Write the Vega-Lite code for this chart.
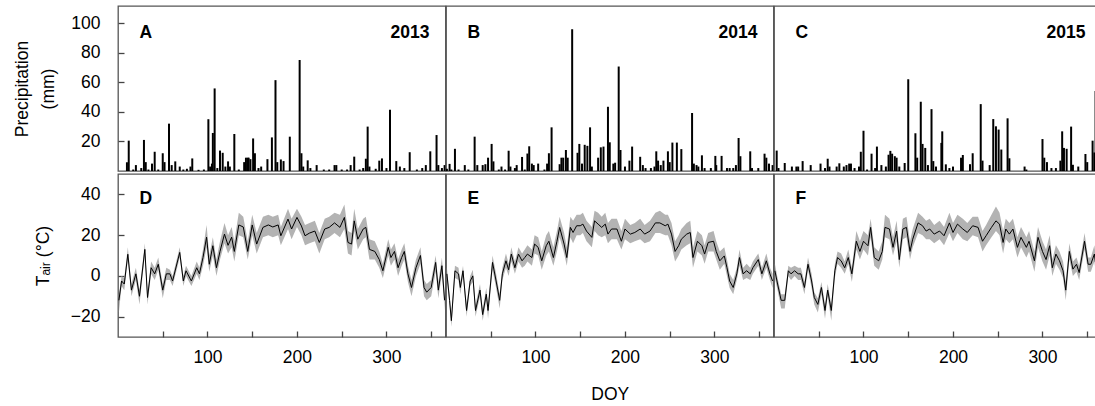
{
  "$schema": "https://vega.github.io/schema/vega-lite/v6.json",
  "padding": {"left": 13, "top": 5, "right": 0, "bottom": 0},
  "background": "white",
  "spacing": 0,
  "config": {
    "font": "Liberation Sans",
    "view": {"stroke": "#555", "strokeWidth": 1.3},
    "concat": {"spacing": 0},
    "axis": {
      "labelFont": "Liberation Sans", "titleFont": "Liberation Sans",
      "labelFontSize": 17.5, "titleFontSize": 17.5, "titleFontWeight": "normal",
      "labelColor": "#000", "titleColor": "#000",
      "tickColor": "#444", "tickSize": 6, "tickWidth": 1.3, "offset": -6,
      "domain": false, "grid": false, "zindex": 2
    }
  },
  "datasets": {
    "precip": [
      {"year":2013,"doy":10,"p":5.9},{"year":2013,"doy":12,"p":20.5},{"year":2013,"doy":17,"p":1},{"year":2013,"doy":20,"p":4},{"year":2013,"doy":26,"p":2},{"year":2013,"doy":29,"p":21},{"year":2013,"doy":31,"p":6},{"year":2013,"doy":34,"p":1},{"year":2013,"doy":38,"p":5},{"year":2013,"doy":41,"p":13},{"year":2013,"doy":45,"p":1},{"year":2013,"doy":50,"p":12},{"year":2013,"doy":52,"p":6},{"year":2013,"doy":57,"p":32},{"year":2013,"doy":60,"p":4},{"year":2013,"doy":64,"p":6.5},{"year":2013,"doy":69,"p":3},{"year":2013,"doy":73,"p":1},{"year":2013,"doy":77,"p":1.5},{"year":2013,"doy":81,"p":3},{"year":2013,"doy":83,"p":8.5},{"year":2013,"doy":90,"p":0.8},{"year":2013,"doy":96,"p":1},{"year":2013,"doy":101,"p":35},{"year":2013,"doy":103,"p":3},{"year":2013,"doy":105,"p":5},{"year":2013,"doy":106,"p":25.7},{"year":2013,"doy":108,"p":55.8},{"year":2013,"doy":111,"p":2},{"year":2013,"doy":114,"p":13.8},{"year":2013,"doy":117,"p":12.3},{"year":2013,"doy":120,"p":3},{"year":2013,"doy":123,"p":6.5},{"year":2013,"doy":125,"p":3},{"year":2013,"doy":130,"p":25},{"year":2013,"doy":135,"p":1},{"year":2013,"doy":141,"p":6},{"year":2013,"doy":143,"p":9},{"year":2013,"doy":145,"p":9},{"year":2013,"doy":146,"p":9},{"year":2013,"doy":148,"p":8},{"year":2013,"doy":151,"p":22},{"year":2013,"doy":153,"p":12},{"year":2013,"doy":157,"p":2},{"year":2013,"doy":160,"p":3},{"year":2013,"doy":167,"p":8},{"year":2013,"doy":172,"p":22.7},{"year":2013,"doy":176,"p":61.4},{"year":2013,"doy":178,"p":6},{"year":2013,"doy":182,"p":7.8},{"year":2013,"doy":185,"p":6.7},{"year":2013,"doy":192,"p":23.2},{"year":2013,"doy":203,"p":75},{"year":2013,"doy":205,"p":12},{"year":2013,"doy":207,"p":3},{"year":2013,"doy":212,"p":7.2},{"year":2013,"doy":215,"p":2},{"year":2013,"doy":222,"p":4},{"year":2013,"doy":230,"p":1},{"year":2013,"doy":236,"p":1},{"year":2013,"doy":242,"p":4},{"year":2013,"doy":244,"p":4},{"year":2013,"doy":250,"p":1},{"year":2013,"doy":256,"p":1},{"year":2013,"doy":260,"p":4},{"year":2013,"doy":264,"p":9.7},{"year":2013,"doy":270,"p":1},{"year":2013,"doy":274,"p":2},{"year":2013,"doy":277,"p":8.3},{"year":2013,"doy":279,"p":30},{"year":2013,"doy":281,"p":3},{"year":2013,"doy":288,"p":1.5},{"year":2013,"doy":292,"p":7},{"year":2013,"doy":295,"p":8.5},{"year":2013,"doy":300,"p":2},{"year":2013,"doy":304,"p":41.4},{"year":2013,"doy":311,"p":6.7},{"year":2013,"doy":315,"p":3},{"year":2013,"doy":320,"p":2},{"year":2013,"doy":326,"p":12.7},{"year":2013,"doy":334,"p":1},{"year":2013,"doy":340,"p":2},{"year":2013,"doy":344,"p":4},{"year":2013,"doy":349,"p":13.3},{"year":2013,"doy":356,"p":24.3},{"year":2013,"doy":358,"p":4},{"year":2013,"doy":362,"p":2},{"year":2013,"doy":365,"p":4},
      {"year":2014,"doy":1,"p":1.5},{"year":2014,"doy":4,"p":4.8},{"year":2014,"doy":6,"p":1},{"year":2014,"doy":10,"p":15},{"year":2014,"doy":14,"p":1},{"year":2014,"doy":21,"p":4},{"year":2014,"doy":25,"p":1},{"year":2014,"doy":32,"p":23.2},{"year":2014,"doy":35,"p":4},{"year":2014,"doy":41,"p":4},{"year":2014,"doy":44,"p":4.6},{"year":2014,"doy":47,"p":9},{"year":2014,"doy":51,"p":18.3},{"year":2014,"doy":53,"p":6.5},{"year":2014,"doy":59,"p":1},{"year":2014,"doy":62,"p":3},{"year":2014,"doy":66,"p":1},{"year":2014,"doy":70,"p":13.7},{"year":2014,"doy":72,"p":3},{"year":2014,"doy":77,"p":2},{"year":2014,"doy":79,"p":4},{"year":2014,"doy":85,"p":9.5},{"year":2014,"doy":88,"p":1},{"year":2014,"doy":91,"p":11.8},{"year":2014,"doy":93,"p":16.7},{"year":2014,"doy":96,"p":5},{"year":2014,"doy":98,"p":4},{"year":2014,"doy":103,"p":5},{"year":2014,"doy":110,"p":1},{"year":2014,"doy":113,"p":5},{"year":2014,"doy":115,"p":12},{"year":2014,"doy":118,"p":29.5},{"year":2014,"doy":127,"p":4.6},{"year":2014,"doy":129,"p":9},{"year":2014,"doy":131,"p":9},{"year":2014,"doy":134,"p":14.2},{"year":2014,"doy":136,"p":9},{"year":2014,"doy":141,"p":95.8},{"year":2014,"doy":147,"p":12.3},{"year":2014,"doy":149,"p":18.3},{"year":2014,"doy":152,"p":5},{"year":2014,"doy":155,"p":17.7},{"year":2014,"doy":158,"p":17},{"year":2014,"doy":161,"p":29.5},{"year":2014,"doy":163,"p":3},{"year":2014,"doy":170,"p":9},{"year":2014,"doy":173,"p":16},{"year":2014,"doy":176,"p":16.5},{"year":2014,"doy":181,"p":43.4},{"year":2014,"doy":183,"p":19.4},{"year":2014,"doy":187,"p":5},{"year":2014,"doy":189,"p":5.6},{"year":2014,"doy":193,"p":70.6},{"year":2014,"doy":195,"p":14.2},{"year":2014,"doy":200,"p":3},{"year":2014,"doy":205,"p":7},{"year":2014,"doy":208,"p":16.5},{"year":2014,"doy":217,"p":9.6},{"year":2014,"doy":220,"p":4},{"year":2014,"doy":223,"p":2},{"year":2014,"doy":229,"p":2},{"year":2014,"doy":233,"p":3},{"year":2014,"doy":235,"p":13.3},{"year":2014,"doy":237,"p":7},{"year":2014,"doy":240,"p":4},{"year":2014,"doy":243,"p":7},{"year":2014,"doy":248,"p":13.3},{"year":2014,"doy":250,"p":6},{"year":2014,"doy":253,"p":19.2},{"year":2014,"doy":258,"p":19.2},{"year":2014,"doy":263,"p":14.8},{"year":2014,"doy":275,"p":39.2},{"year":2014,"doy":277,"p":5},{"year":2014,"doy":280,"p":4},{"year":2014,"doy":282,"p":3},{"year":2014,"doy":286,"p":10.6},{"year":2014,"doy":289,"p":2},{"year":2014,"doy":296,"p":2},{"year":2014,"doy":301,"p":10.2},{"year":2014,"doy":302,"p":4},{"year":2014,"doy":308,"p":10.2},{"year":2014,"doy":314,"p":2},{"year":2014,"doy":317,"p":2},{"year":2014,"doy":321,"p":2},{"year":2014,"doy":324,"p":4},{"year":2014,"doy":327,"p":22.3},{"year":2014,"doy":329,"p":10},{"year":2014,"doy":340,"p":13.3},{"year":2014,"doy":342,"p":2},{"year":2014,"doy":349,"p":2},{"year":2014,"doy":356,"p":11.7},{"year":2014,"doy":358,"p":9},{"year":2014,"doy":361,"p":5},{"year":2014,"doy":365,"p":4},
      {"year":2015,"doy":3,"p":13.8},{"year":2015,"doy":5,"p":2},{"year":2015,"doy":12,"p":5.4},{"year":2015,"doy":20,"p":3},{"year":2015,"doy":25,"p":3},{"year":2015,"doy":27,"p":3},{"year":2015,"doy":32,"p":6.7},{"year":2015,"doy":41,"p":4},{"year":2015,"doy":52,"p":5},{"year":2015,"doy":57,"p":2},{"year":2015,"doy":60,"p":8.3},{"year":2015,"doy":62,"p":3},{"year":2015,"doy":70,"p":3},{"year":2015,"doy":73,"p":5.2},{"year":2015,"doy":78,"p":3},{"year":2015,"doy":81,"p":4},{"year":2015,"doy":84,"p":5},{"year":2015,"doy":86,"p":5},{"year":2015,"doy":90,"p":2},{"year":2015,"doy":95,"p":3},{"year":2015,"doy":97,"p":13},{"year":2015,"doy":100,"p":27.2},{"year":2015,"doy":104,"p":1},{"year":2015,"doy":109,"p":11.7},{"year":2015,"doy":113,"p":2},{"year":2015,"doy":115,"p":16.5},{"year":2015,"doy":120,"p":4},{"year":2015,"doy":125,"p":3},{"year":2015,"doy":128,"p":11},{"year":2015,"doy":130,"p":13.6},{"year":2015,"doy":132,"p":11.7},{"year":2015,"doy":135,"p":10},{"year":2015,"doy":137,"p":9},{"year":2015,"doy":140,"p":3},{"year":2015,"doy":146,"p":5.4},{"year":2015,"doy":150,"p":62},{"year":2015,"doy":158,"p":25.5},{"year":2015,"doy":160,"p":9},{"year":2015,"doy":164,"p":46.8},{"year":2015,"doy":166,"p":18.3},{"year":2015,"doy":169,"p":15.6},{"year":2015,"doy":172,"p":4},{"year":2015,"doy":176,"p":41.8},{"year":2015,"doy":178,"p":6.7},{"year":2015,"doy":181,"p":3},{"year":2015,"doy":187,"p":19},{"year":2015,"doy":188,"p":26.8},{"year":2015,"doy":192,"p":4.5},{"year":2015,"doy":196,"p":2},{"year":2015,"doy":200,"p":3},{"year":2015,"doy":209,"p":9},{"year":2015,"doy":211,"p":10.8},{"year":2015,"doy":219,"p":4.6},{"year":2015,"doy":222,"p":12},{"year":2015,"doy":231,"p":45.2},{"year":2015,"doy":233,"p":7},{"year":2015,"doy":241,"p":4},{"year":2015,"doy":245,"p":35.1},{"year":2015,"doy":248,"p":30.2},{"year":2015,"doy":251,"p":28},{"year":2015,"doy":254,"p":14.5},{"year":2015,"doy":261,"p":35.6},{"year":2015,"doy":263,"p":8.6},{"year":2015,"doy":280,"p":3},{"year":2015,"doy":282,"p":1},{"year":2015,"doy":300,"p":21.6},{"year":2015,"doy":302,"p":9},{"year":2015,"doy":305,"p":6},{"year":2015,"doy":310,"p":2},{"year":2015,"doy":315,"p":2},{"year":2015,"doy":320,"p":7},{"year":2015,"doy":322,"p":26.8},{"year":2015,"doy":324,"p":15.6},{"year":2015,"doy":327,"p":15},{"year":2015,"doy":332,"p":30},{"year":2015,"doy":334,"p":4.2},{"year":2015,"doy":340,"p":3},{"year":2015,"doy":348,"p":11.5},{"year":2015,"doy":350,"p":6},{"year":2015,"doy":356,"p":20.5},{"year":2015,"doy":358,"p":12.5},{"year":2015,"doy":359.3,"p":54}
    ],
    "temp": [
      {"year":2013,"doy":1,"t":-12,"lo":-18,"hi":-9},{"year":2013,"doy":4,"t":-2.5,"lo":-5,"hi":0},{"year":2013,"doy":7,"t":-4,"lo":-7,"hi":-1},{"year":2013,"doy":11,"t":10.6,"lo":8,"hi":14},{"year":2013,"doy":15,"t":-7,"lo":-10,"hi":-4},{"year":2013,"doy":20,"t":1,"lo":-2,"hi":4},{"year":2013,"doy":24,"t":-10,"lo":-14,"hi":-7},{"year":2013,"doy":30,"t":13,"lo":10,"hi":16},{"year":2013,"doy":33,"t":-10.6,"lo":-14,"hi":-8},{"year":2013,"doy":37,"t":4,"lo":1,"hi":7},{"year":2013,"doy":41,"t":1,"lo":-2,"hi":4},{"year":2013,"doy":45,"t":5.7,"lo":3,"hi":9},{"year":2013,"doy":50,"t":-7,"lo":-11,"hi":-4},{"year":2013,"doy":54,"t":1,"lo":-2,"hi":4},{"year":2013,"doy":58,"t":1,"lo":-2,"hi":3},{"year":2013,"doy":61,"t":-2.5,"lo":-5,"hi":0},{"year":2013,"doy":69,"t":11.5,"lo":9,"hi":14},{"year":2013,"doy":73,"t":-2.5,"lo":-5,"hi":0},{"year":2013,"doy":76,"t":2.5,"lo":0,"hi":5},{"year":2013,"doy":82,"t":-2.5,"lo":-5,"hi":0},{"year":2013,"doy":88,"t":4,"lo":1,"hi":7},{"year":2013,"doy":91,"t":1,"lo":-2,"hi":4},{"year":2013,"doy":95,"t":9,"lo":5,"hi":13},{"year":2013,"doy":99,"t":19,"lo":14,"hi":25},{"year":2013,"doy":102,"t":5.7,"lo":2,"hi":10},{"year":2013,"doy":106,"t":14.8,"lo":10,"hi":19},{"year":2013,"doy":110,"t":4,"lo":0,"hi":8},{"year":2013,"doy":114,"t":12,"lo":8,"hi":17},{"year":2013,"doy":119,"t":20.5,"lo":16,"hi":26},{"year":2013,"doy":123,"t":15,"lo":11,"hi":20},{"year":2013,"doy":127,"t":19,"lo":14,"hi":24},{"year":2013,"doy":130,"t":12,"lo":7,"hi":17},{"year":2013,"doy":135,"t":25,"lo":20,"hi":31},{"year":2013,"doy":140,"t":24,"lo":19,"hi":29},{"year":2013,"doy":145,"t":12,"lo":8,"hi":17},{"year":2013,"doy":150,"t":25,"lo":20,"hi":30},{"year":2013,"doy":155,"t":15.6,"lo":11,"hi":21},{"year":2013,"doy":162,"t":23.8,"lo":19,"hi":29},{"year":2013,"doy":168,"t":25,"lo":20,"hi":30},{"year":2013,"doy":173,"t":24,"lo":19,"hi":29},{"year":2013,"doy":179,"t":25,"lo":20,"hi":30},{"year":2013,"doy":182,"t":19.7,"lo":15,"hi":24},{"year":2013,"doy":190,"t":27.9,"lo":23,"hi":33},{"year":2013,"doy":194,"t":23,"lo":18,"hi":28},{"year":2013,"doy":200,"t":28.7,"lo":24,"hi":33},{"year":2013,"doy":205,"t":24.5,"lo":20,"hi":29},{"year":2013,"doy":209,"t":19.7,"lo":15,"hi":25},{"year":2013,"doy":214,"t":21,"lo":16,"hi":26},{"year":2013,"doy":220,"t":22,"lo":17,"hi":27},{"year":2013,"doy":225,"t":16.4,"lo":11,"hi":21},{"year":2013,"doy":231,"t":23,"lo":18,"hi":28},{"year":2013,"doy":236,"t":23.8,"lo":19,"hi":29},{"year":2013,"doy":242,"t":26,"lo":21,"hi":31},{"year":2013,"doy":248,"t":23.8,"lo":19,"hi":30},{"year":2013,"doy":253,"t":28.7,"lo":23,"hi":35},{"year":2013,"doy":257,"t":16.4,"lo":11,"hi":22},{"year":2013,"doy":261,"t":15.6,"lo":10,"hi":21},{"year":2013,"doy":264,"t":27,"lo":22,"hi":33},{"year":2013,"doy":268,"t":18,"lo":13,"hi":23},{"year":2013,"doy":274,"t":23,"lo":18,"hi":28},{"year":2013,"doy":277,"t":23.8,"lo":19,"hi":29},{"year":2013,"doy":281,"t":13,"lo":8,"hi":18},{"year":2013,"doy":287,"t":12,"lo":8,"hi":17},{"year":2013,"doy":292,"t":8,"lo":4,"hi":12},{"year":2013,"doy":296,"t":2.5,"lo":-1,"hi":6},{"year":2013,"doy":302,"t":14,"lo":10,"hi":18},{"year":2013,"doy":305,"t":9,"lo":5,"hi":13},{"year":2013,"doy":309,"t":12,"lo":8,"hi":16},{"year":2013,"doy":313,"t":4,"lo":0,"hi":8},{"year":2013,"doy":317,"t":9,"lo":5,"hi":13},{"year":2013,"doy":320,"t":12,"lo":8,"hi":16},{"year":2013,"doy":324,"t":1,"lo":-3,"hi":5},{"year":2013,"doy":328,"t":-5.7,"lo":-10,"hi":-2},{"year":2013,"doy":333,"t":4,"lo":0,"hi":8},{"year":2013,"doy":338,"t":10,"lo":6,"hi":14},{"year":2013,"doy":342,"t":-5.7,"lo":-10,"hi":-2},{"year":2013,"doy":345,"t":-8,"lo":-12,"hi":-4},{"year":2013,"doy":350,"t":-5.7,"lo":-10,"hi":-2},{"year":2013,"doy":355,"t":6.6,"lo":2,"hi":10},{"year":2013,"doy":358,"t":-7,"lo":-11,"hi":-3},{"year":2013,"doy":362,"t":5,"lo":1,"hi":9},{"year":2013,"doy":365,"t":-12,"lo":-17,"hi":-8},
      {"year":2014,"doy":1,"t":1,"lo":-2,"hi":4},{"year":2014,"doy":4,"t":-12,"lo":-15,"hi":-9},{"year":2014,"doy":6,"t":-22,"lo":-25,"hi":-19},{"year":2014,"doy":10,"t":2.5,"lo":-1,"hi":5},{"year":2014,"doy":14,"t":1,"lo":-2,"hi":4},{"year":2014,"doy":16,"t":-5.7,"lo":-9,"hi":-3},{"year":2014,"doy":19,"t":2.5,"lo":0,"hi":5},{"year":2014,"doy":23,"t":-17,"lo":-20,"hi":-14},{"year":2014,"doy":27,"t":-2.5,"lo":-5,"hi":0},{"year":2014,"doy":30,"t":0,"lo":-3,"hi":3},{"year":2014,"doy":33,"t":-17,"lo":-20,"hi":-14},{"year":2014,"doy":38,"t":-7,"lo":-10,"hi":-4},{"year":2014,"doy":41,"t":-19,"lo":-22,"hi":-16},{"year":2014,"doy":45,"t":-9,"lo":-12,"hi":-6},{"year":2014,"doy":47,"t":-17,"lo":-21,"hi":-14},{"year":2014,"doy":52,"t":6.6,"lo":3,"hi":10},{"year":2014,"doy":56,"t":-2.5,"lo":-6,"hi":1},{"year":2014,"doy":60,"t":-12,"lo":-16,"hi":-9},{"year":2014,"doy":63,"t":1,"lo":-2,"hi":4},{"year":2014,"doy":67,"t":7.4,"lo":4,"hi":11},{"year":2014,"doy":70,"t":3,"lo":0,"hi":6},{"year":2014,"doy":73,"t":10.7,"lo":7,"hi":14},{"year":2014,"doy":77,"t":4,"lo":1,"hi":7},{"year":2014,"doy":81,"t":10.7,"lo":7,"hi":14},{"year":2014,"doy":85,"t":7.4,"lo":4,"hi":11},{"year":2014,"doy":88,"t":9,"lo":5,"hi":13},{"year":2014,"doy":91,"t":10.7,"lo":7,"hi":15},{"year":2014,"doy":96,"t":9,"lo":5,"hi":13},{"year":2014,"doy":99,"t":15.6,"lo":11,"hi":20},{"year":2014,"doy":103,"t":14,"lo":10,"hi":19},{"year":2014,"doy":107,"t":7.4,"lo":3,"hi":12},{"year":2014,"doy":112,"t":14.8,"lo":10,"hi":20},{"year":2014,"doy":115,"t":17,"lo":12,"hi":22},{"year":2014,"doy":120,"t":9,"lo":5,"hi":14},{"year":2014,"doy":124,"t":17,"lo":12,"hi":22},{"year":2014,"doy":127,"t":23.8,"lo":19,"hi":29},{"year":2014,"doy":132,"t":15.6,"lo":11,"hi":21},{"year":2014,"doy":135,"t":9,"lo":5,"hi":14},{"year":2014,"doy":139,"t":23.8,"lo":19,"hi":29},{"year":2014,"doy":142,"t":21.3,"lo":16,"hi":27},{"year":2014,"doy":146,"t":24.6,"lo":20,"hi":30},{"year":2014,"doy":150,"t":24.6,"lo":20,"hi":30},{"year":2014,"doy":153,"t":25.4,"lo":21,"hi":31},{"year":2014,"doy":157,"t":22,"lo":17,"hi":27},{"year":2014,"doy":163,"t":18.9,"lo":14,"hi":24},{"year":2014,"doy":166,"t":27,"lo":22,"hi":32},{"year":2014,"doy":170,"t":25.4,"lo":20,"hi":31},{"year":2014,"doy":174,"t":23.8,"lo":19,"hi":29},{"year":2014,"doy":178,"t":25.4,"lo":20,"hi":31},{"year":2014,"doy":181,"t":20.5,"lo":16,"hi":26},{"year":2014,"doy":185,"t":23,"lo":18,"hi":28},{"year":2014,"doy":191,"t":23,"lo":18,"hi":28},{"year":2014,"doy":196,"t":17,"lo":13,"hi":22},{"year":2014,"doy":200,"t":23,"lo":18,"hi":28},{"year":2014,"doy":206,"t":20.5,"lo":16,"hi":25},{"year":2014,"doy":211,"t":21.3,"lo":17,"hi":26},{"year":2014,"doy":217,"t":23,"lo":18,"hi":28},{"year":2014,"doy":222,"t":20.5,"lo":16,"hi":25},{"year":2014,"doy":228,"t":22,"lo":17,"hi":27},{"year":2014,"doy":234,"t":26,"lo":21,"hi":31},{"year":2014,"doy":239,"t":26,"lo":21,"hi":32},{"year":2014,"doy":245,"t":24.6,"lo":20,"hi":30},{"year":2014,"doy":248,"t":25.4,"lo":20,"hi":30},{"year":2014,"doy":252,"t":20.5,"lo":15,"hi":26},{"year":2014,"doy":256,"t":12,"lo":7,"hi":17},{"year":2014,"doy":260,"t":14.8,"lo":10,"hi":20},{"year":2014,"doy":263,"t":18,"lo":13,"hi":23},{"year":2014,"doy":269,"t":20.5,"lo":15,"hi":26},{"year":2014,"doy":273,"t":21.3,"lo":16,"hi":27},{"year":2014,"doy":276,"t":9,"lo":4,"hi":14},{"year":2014,"doy":281,"t":17,"lo":12,"hi":22},{"year":2014,"doy":286,"t":14.8,"lo":10,"hi":20},{"year":2014,"doy":289,"t":10.7,"lo":6,"hi":15},{"year":2014,"doy":293,"t":16.4,"lo":12,"hi":21},{"year":2014,"doy":299,"t":17,"lo":12,"hi":22},{"year":2014,"doy":302,"t":12,"lo":8,"hi":17},{"year":2014,"doy":306,"t":7.4,"lo":3,"hi":12},{"year":2014,"doy":311,"t":9.8,"lo":6,"hi":14},{"year":2014,"doy":314,"t":4,"lo":0,"hi":8},{"year":2014,"doy":317,"t":-2.5,"lo":-6,"hi":1},{"year":2014,"doy":321,"t":-5.7,"lo":-9,"hi":-2},{"year":2014,"doy":325,"t":1,"lo":-2,"hi":4},{"year":2014,"doy":328,"t":9,"lo":5,"hi":13},{"year":2014,"doy":332,"t":1,"lo":-2,"hi":4},{"year":2014,"doy":336,"t":2.5,"lo":-1,"hi":6},{"year":2014,"doy":340,"t":1,"lo":-2,"hi":4},{"year":2014,"doy":343,"t":4,"lo":1,"hi":7},{"year":2014,"doy":349,"t":8,"lo":5,"hi":11},{"year":2014,"doy":353,"t":1,"lo":-2,"hi":4},{"year":2014,"doy":358,"t":7.4,"lo":4,"hi":11},{"year":2014,"doy":362,"t":1,"lo":-2,"hi":4},{"year":2014,"doy":365,"t":-2.5,"lo":-6,"hi":1},
      {"year":2015,"doy":1,"t":2.5,"lo":-1,"hi":6},{"year":2015,"doy":4,"t":-4,"lo":-7,"hi":-1},{"year":2015,"doy":8,"t":-12,"lo":-16,"hi":-9},{"year":2015,"doy":12,"t":-12,"lo":-16,"hi":-9},{"year":2015,"doy":16,"t":2.5,"lo":0,"hi":5},{"year":2015,"doy":19,"t":1,"lo":-2,"hi":4},{"year":2015,"doy":23,"t":2.5,"lo":0,"hi":5},{"year":2015,"doy":27,"t":1,"lo":-2,"hi":4},{"year":2015,"doy":30,"t":1,"lo":-2,"hi":4},{"year":2015,"doy":34,"t":-5.7,"lo":-9,"hi":-3},{"year":2015,"doy":38,"t":5.7,"lo":3,"hi":9},{"year":2015,"doy":42,"t":-2.5,"lo":-6,"hi":1},{"year":2015,"doy":45,"t":-10.6,"lo":-14,"hi":-8},{"year":2015,"doy":49,"t":-14,"lo":-18,"hi":-11},{"year":2015,"doy":53,"t":-5.7,"lo":-9,"hi":-3},{"year":2015,"doy":57,"t":-17,"lo":-21,"hi":-14},{"year":2015,"doy":60,"t":-7,"lo":-10,"hi":-4},{"year":2015,"doy":64,"t":-17,"lo":-22,"hi":-14},{"year":2015,"doy":68,"t":2.5,"lo":-1,"hi":6},{"year":2015,"doy":71,"t":9,"lo":6,"hi":12},{"year":2015,"doy":75,"t":7.4,"lo":4,"hi":11},{"year":2015,"doy":79,"t":4,"lo":1,"hi":7},{"year":2015,"doy":83,"t":9,"lo":6,"hi":13},{"year":2015,"doy":87,"t":1,"lo":-3,"hi":4},{"year":2015,"doy":92,"t":17,"lo":13,"hi":22},{"year":2015,"doy":96,"t":12,"lo":8,"hi":17},{"year":2015,"doy":100,"t":17,"lo":13,"hi":22},{"year":2015,"doy":105,"t":14.8,"lo":10,"hi":20},{"year":2015,"doy":108,"t":23.8,"lo":19,"hi":28},{"year":2015,"doy":112,"t":9,"lo":5,"hi":14},{"year":2015,"doy":117,"t":7.4,"lo":3,"hi":12},{"year":2015,"doy":121,"t":12,"lo":8,"hi":17},{"year":2015,"doy":124,"t":23.8,"lo":19,"hi":30},{"year":2015,"doy":129,"t":23,"lo":18,"hi":28},{"year":2015,"doy":133,"t":14,"lo":10,"hi":19},{"year":2015,"doy":137,"t":22,"lo":17,"hi":27},{"year":2015,"doy":140,"t":8,"lo":4,"hi":13},{"year":2015,"doy":144,"t":23,"lo":18,"hi":28},{"year":2015,"doy":148,"t":23.8,"lo":19,"hi":29},{"year":2015,"doy":152,"t":12,"lo":8,"hi":17},{"year":2015,"doy":155,"t":18,"lo":14,"hi":23},{"year":2015,"doy":161,"t":26,"lo":21,"hi":31},{"year":2015,"doy":166,"t":24.6,"lo":20,"hi":29},{"year":2015,"doy":170,"t":22,"lo":18,"hi":27},{"year":2015,"doy":174,"t":23,"lo":18,"hi":28},{"year":2015,"doy":179,"t":20.5,"lo":16,"hi":25},{"year":2015,"doy":185,"t":22,"lo":18,"hi":27},{"year":2015,"doy":190,"t":19.7,"lo":15,"hi":24},{"year":2015,"doy":196,"t":26,"lo":21,"hi":31},{"year":2015,"doy":200,"t":21.3,"lo":17,"hi":26},{"year":2015,"doy":205,"t":25.4,"lo":21,"hi":30},{"year":2015,"doy":211,"t":23,"lo":18,"hi":28},{"year":2015,"doy":216,"t":21.3,"lo":17,"hi":26},{"year":2015,"doy":222,"t":24.6,"lo":20,"hi":29},{"year":2015,"doy":228,"t":23.8,"lo":19,"hi":29},{"year":2015,"doy":233,"t":17,"lo":12,"hi":22},{"year":2015,"doy":237,"t":19.7,"lo":15,"hi":25},{"year":2015,"doy":243,"t":23.8,"lo":19,"hi":30},{"year":2015,"doy":248,"t":27,"lo":22,"hi":34},{"year":2015,"doy":252,"t":25.4,"lo":20,"hi":31},{"year":2015,"doy":256,"t":16.4,"lo":11,"hi":22},{"year":2015,"doy":259,"t":23,"lo":18,"hi":28},{"year":2015,"doy":263,"t":20.5,"lo":16,"hi":26},{"year":2015,"doy":267,"t":23,"lo":18,"hi":28},{"year":2015,"doy":272,"t":14,"lo":9,"hi":19},{"year":2015,"doy":276,"t":18.9,"lo":14,"hi":24},{"year":2015,"doy":282,"t":14,"lo":9,"hi":19},{"year":2015,"doy":285,"t":17,"lo":12,"hi":22},{"year":2015,"doy":291,"t":7.4,"lo":2,"hi":12},{"year":2015,"doy":295,"t":18.9,"lo":14,"hi":24},{"year":2015,"doy":300,"t":12,"lo":7,"hi":17},{"year":2015,"doy":304,"t":8,"lo":3,"hi":13},{"year":2015,"doy":308,"t":14.8,"lo":10,"hi":20},{"year":2015,"doy":311,"t":4,"lo":0,"hi":8},{"year":2015,"doy":315,"t":10.7,"lo":6,"hi":15},{"year":2015,"doy":319,"t":7.4,"lo":3,"hi":12},{"year":2015,"doy":323,"t":2.5,"lo":-1,"hi":7},{"year":2015,"doy":326,"t":-7,"lo":-12,"hi":-3},{"year":2015,"doy":330,"t":12,"lo":8,"hi":16},{"year":2015,"doy":334,"t":3.3,"lo":0,"hi":7},{"year":2015,"doy":338,"t":5.7,"lo":2,"hi":9},{"year":2015,"doy":341,"t":1.6,"lo":-2,"hi":5},{"year":2015,"doy":347,"t":17,"lo":13,"hi":21},{"year":2015,"doy":351,"t":5.7,"lo":2,"hi":9},{"year":2015,"doy":354,"t":5.7,"lo":2,"hi":9},{"year":2015,"doy":358,"t":10.7,"lo":7,"hi":15},{"year":2015,"doy":360,"t":4,"lo":0,"hi":8},{"year":2015,"doy":365,"t":6,"lo":2,"hi":10}
    ]
  },
  "vconcat": [
    {
      "spacing": 0,
      "bounds": "flush",
      "hconcat": [
        {
          "width": 327.5, "height": 165,
          "layer": [
            {"data": {"name": "precip"}, "transform": [{"filter": "datum.year == 2013"}],
             "mark": {"type": "rule", "color": "#000", "strokeWidth": 2},
             "encoding": {
               "x": {"field": "doy", "type": "quantitative", "scale": {"domain": [0, 366], "nice": false, "zero": false}, "axis": null},
               "y": {"field": "p", "type": "quantitative", "scale": {"domain": [0, 111.5], "nice": false},
                     "axis": {"values": [20, 40, 60, 80, 100], "labelPadding": 18, "title": ["Precipitation", "(mm)"], "titlePadding": 13, "titleLineHeight": 26}},
               "y2": {"datum": 0}}},
            {"data": {"values": [{"letter": "A"}]}, "mark": {"type": "text", "align": "left", "baseline": "middle", "fontWeight": "bold", "fontSize": 17.5, "font": "Liberation Sans", "color": "#000"},
             "encoding": {"x": {"datum": 24}, "y": {"datum": 93.5}, "text": {"field": "letter"}}},
            {"data": {"values": [{"yr": "2013"}]}, "mark": {"type": "text", "align": "right", "baseline": "middle", "fontWeight": "bold", "fontSize": 17.5, "font": "Liberation Sans", "color": "#000"},
             "encoding": {"x": {"datum": 348}, "y": {"datum": 93.5}, "text": {"field": "yr"}}}
          ]
        },
        {
          "width": 327.5, "height": 165,
          "layer": [
            {"data": {"name": "precip"}, "transform": [{"filter": "datum.year == 2014"}],
             "mark": {"type": "rule", "color": "#000", "strokeWidth": 2},
             "encoding": {
               "x": {"field": "doy", "type": "quantitative", "scale": {"domain": [0, 366], "nice": false, "zero": false}, "axis": null},
               "y": {"field": "p", "type": "quantitative", "scale": {"domain": [0, 111.5], "nice": false}, "axis": null},
               "y2": {"datum": 0}}},
            {"data": {"values": [{"letter": "B"}]}, "mark": {"type": "text", "align": "left", "baseline": "middle", "fontWeight": "bold", "fontSize": 17.5, "font": "Liberation Sans", "color": "#000"},
             "encoding": {"x": {"datum": 24}, "y": {"datum": 93.5}, "text": {"field": "letter"}}},
            {"data": {"values": [{"yr": "2014"}]}, "mark": {"type": "text", "align": "right", "baseline": "middle", "fontWeight": "bold", "fontSize": 17.5, "font": "Liberation Sans", "color": "#000"},
             "encoding": {"x": {"datum": 348}, "y": {"datum": 93.5}, "text": {"field": "yr"}}}
          ]
        },
        {
          "width": 322, "height": 165,
          "layer": [
            {"data": {"name": "precip"}, "transform": [{"filter": "datum.year == 2015"}],
             "mark": {"type": "rule", "color": "#000", "strokeWidth": 2, "clip": true},
             "encoding": {
               "x": {"field": "doy", "type": "quantitative", "scale": {"domain": [0, 359.8], "nice": false, "zero": false}, "axis": null},
               "y": {"field": "p", "type": "quantitative", "scale": {"domain": [0, 111.5], "nice": false}, "axis": null},
               "y2": {"datum": 0}}},
            {"data": {"values": [{"letter": "C"}]}, "mark": {"type": "text", "align": "left", "baseline": "middle", "fontWeight": "bold", "fontSize": 17.5, "font": "Liberation Sans", "color": "#000"},
             "encoding": {"x": {"datum": 24}, "y": {"datum": 93.5}, "text": {"field": "letter"}}},
            {"data": {"values": [{"yr": "2015"}]}, "mark": {"type": "text", "align": "right", "baseline": "middle", "fontWeight": "bold", "fontSize": 17.5, "font": "Liberation Sans", "color": "#000"},
             "encoding": {"x": {"datum": 348}, "y": {"datum": 93.5}, "text": {"field": "yr"}}}
          ]
        }
      ]
    },
    {
      "spacing": 0,
      "bounds": "flush",
      "hconcat": [
        {
          "width": 327.5, "height": 163,
          "layer": [
            {"data": {"name": "temp"}, "transform": [{"filter": "datum.year == 2013"}],
             "mark": {"type": "area", "color": "#b3b3b3", "opacity": 1},
             "encoding": {
               "x": {"field": "doy", "type": "quantitative", "scale": {"domain": [0, 366], "nice": false, "zero": false},
                     "axis": {"values": [50, 100, 150, 200, 250, 300, 350], "labelExpr": "datum.value % 100 == 0 ? datum.label : ''", "labelPadding": 11, "title": null}},
               "y": {"field": "lo", "type": "quantitative", "scale": {"domain": [-30, 50], "nice": false, "zero": false},
                     "axis": {"values": [-20, 0, 20, 40], "labelPadding": 18, "title": "Tₐᵢᵣ (°C)", "titlePadding": 18}},
               "y2": {"field": "hi"}}},
            {"data": {"name": "temp"}, "transform": [{"filter": "datum.year == 2013"}],
             "mark": {"type": "line", "color": "#000", "strokeWidth": 1},
             "encoding": {"x": {"field": "doy", "type": "quantitative"}, "y": {"field": "t", "type": "quantitative"}}},
            {"data": {"values": [{"letter": "D"}]}, "mark": {"type": "text", "align": "left", "baseline": "middle", "fontWeight": "bold", "fontSize": 17.5, "font": "Liberation Sans", "color": "#000"},
             "encoding": {"x": {"datum": 24}, "y": {"datum": 37.7}, "text": {"field": "letter"}}}
          ]
        },
        {
          "width": 327.5, "height": 163,
          "layer": [
            {"data": {"name": "temp"}, "transform": [{"filter": "datum.year == 2014"}],
             "mark": {"type": "area", "color": "#b3b3b3", "opacity": 1},
             "encoding": {
               "x": {"field": "doy", "type": "quantitative", "scale": {"domain": [0, 366], "nice": false, "zero": false},
                     "axis": {"values": [50, 100, 150, 200, 250, 300, 350], "labelExpr": "datum.value % 100 == 0 ? datum.label : ''", "labelPadding": 11, "title": "DOY", "titlePadding": 20}},
               "y": {"field": "lo", "type": "quantitative", "scale": {"domain": [-30, 50], "nice": false, "zero": false}, "axis": null},
               "y2": {"field": "hi"}}},
            {"data": {"name": "temp"}, "transform": [{"filter": "datum.year == 2014"}],
             "mark": {"type": "line", "color": "#000", "strokeWidth": 1},
             "encoding": {"x": {"field": "doy", "type": "quantitative"}, "y": {"field": "t", "type": "quantitative"}}},
            {"data": {"values": [{"letter": "E"}]}, "mark": {"type": "text", "align": "left", "baseline": "middle", "fontWeight": "bold", "fontSize": 17.5, "font": "Liberation Sans", "color": "#000"},
             "encoding": {"x": {"datum": 24}, "y": {"datum": 37.7}, "text": {"field": "letter"}}}
          ]
        },
        {
          "width": 322, "height": 163,
          "layer": [
            {"data": {"name": "temp"}, "transform": [{"filter": "datum.year == 2015"}],
             "mark": {"type": "area", "color": "#b3b3b3", "opacity": 1, "clip": true},
             "encoding": {
               "x": {"field": "doy", "type": "quantitative", "scale": {"domain": [0, 359.8], "nice": false, "zero": false},
                     "axis": {"values": [50, 100, 150, 200, 250, 300, 350], "labelExpr": "datum.value % 100 == 0 ? datum.label : ''", "labelPadding": 11, "title": null}},
               "y": {"field": "lo", "type": "quantitative", "scale": {"domain": [-30, 50], "nice": false, "zero": false}, "axis": null},
               "y2": {"field": "hi"}}},
            {"data": {"name": "temp"}, "transform": [{"filter": "datum.year == 2015"}],
             "mark": {"type": "line", "color": "#000", "strokeWidth": 1, "clip": true},
             "encoding": {"x": {"field": "doy", "type": "quantitative"}, "y": {"field": "t", "type": "quantitative"}}},
            {"data": {"values": [{"letter": "F"}]}, "mark": {"type": "text", "align": "left", "baseline": "middle", "fontWeight": "bold", "fontSize": 17.5, "font": "Liberation Sans", "color": "#000"},
             "encoding": {"x": {"datum": 24}, "y": {"datum": 37.7}, "text": {"field": "letter"}}}
          ]
        }
      ]
    }
  ]
}
